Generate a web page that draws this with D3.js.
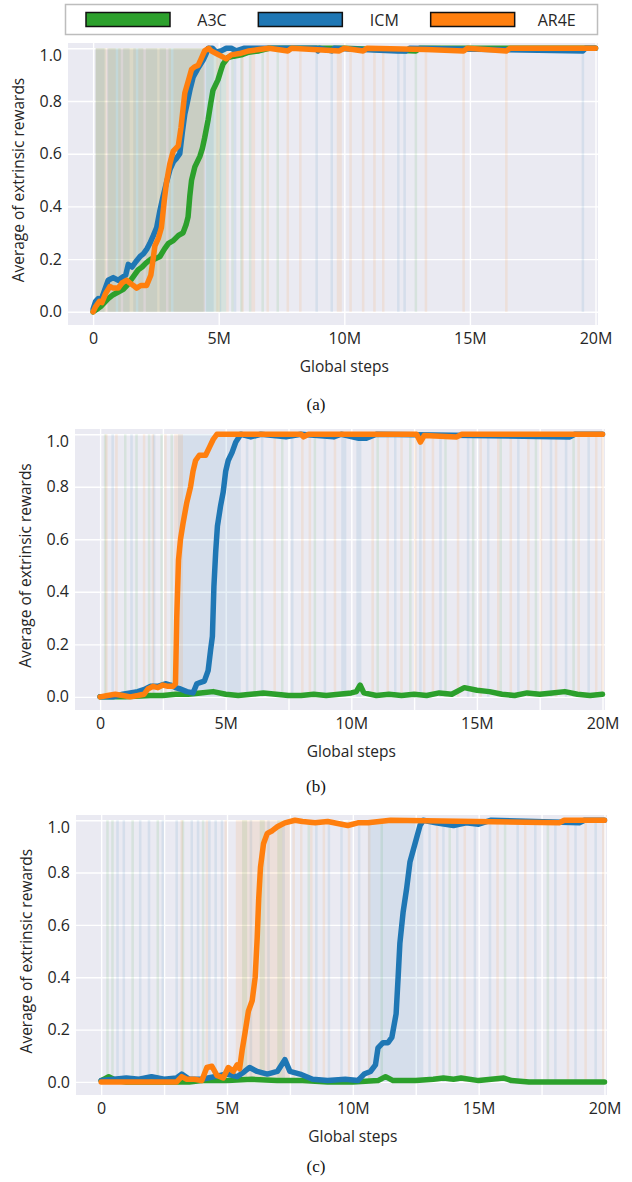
<!DOCTYPE html>
<html>
<head>
<meta charset="utf-8">
<script src="https://cdn.jsdelivr.net/npm/d3@7"></script>
<style>
  body { margin: 0; background: #fff; }
  svg text { font-family: "Open Sans", "Noto Sans", sans-serif; fill: #262626; }
  svg text.caption { font-family: "Liberation Serif", "Times New Roman", serif; fill: #111; }
</style>
</head>
<body>
<svg id="chart" width="632" height="1182"></svg>
<script>
//-------------------------------
// Data (x = global steps in millions, y = average extrinsic reward)
var seriesNames = ["A3C", "ICM", "AR4E"];
var seriesColors = ["#2ca02c", "#1f77b4", "#ff7f0e"];
var yTicks = [0, 0.2, 0.4, 0.6, 0.8, 1.0];
var xTicks = [0, 5, 10, 15, 20];
var panelLetters = ["(a)", "(b)", "(c)"];

// (a)
var a3cA = [[0,0],[0.15,0.01],[0.3,0.02],[0.45,0.035],[0.6,0.05],[0.8,0.065],[1.0,0.075],[1.2,0.085],[1.35,0.1],
  [1.5,0.12],[1.65,0.14],[1.8,0.16],[1.95,0.17],[2.1,0.185],[2.3,0.2],[2.45,0.2],[2.66,0.21],[2.85,0.24],[3.0,0.26],
  [3.19,0.27],[3.4,0.29],[3.58,0.3],[3.7,0.33],[3.78,0.36],[3.85,0.44],[3.92,0.5],[4.05,0.55],[4.25,0.59],[4.35,0.62],
  [4.44,0.66],[4.58,0.73],[4.68,0.79],[4.77,0.84],[4.97,0.88],[5.1,0.92],[5.17,0.94],[5.37,0.965],[5.6,0.97],
  [5.9,0.975],[6.2,0.985],[6.6,0.99],[7.0,1.0],[7.4,1.0],[10,1.0],[12.85,0.99],[13,1.0],[20,1.0]];
var icmA = [[0,0.01],[0.1,0.04],[0.2,0.05],[0.3,0.04],[0.45,0.08],[0.6,0.12],[0.8,0.13],[1.0,0.12],[1.15,0.13],
  [1.3,0.14],[1.4,0.18],[1.55,0.17],[1.7,0.19],[1.87,0.21],[2.0,0.22],[2.15,0.24],[2.26,0.26],[2.4,0.29],[2.53,0.32],
  [2.65,0.38],[2.79,0.44],[2.92,0.49],[3.06,0.54],[3.2,0.57],[3.3,0.58],[3.45,0.6],[3.55,0.68],[3.65,0.75],[3.72,0.78],
  [3.85,0.84],[3.98,0.89],[4.15,0.92],[4.38,0.955],[4.5,0.98],[4.58,1.0],[4.75,1.0],[4.9,0.985],[5.1,0.99],[5.3,1.0],
  [5.5,1.0],[5.7,0.99],[6.0,1.0],[8.9,1.0],[8.95,0.99],[9.0,1.0],[9.5,0.99],[9.6,1.0],[12.1,0.99],[12.45,0.99],
  [12.6,1.0],[19.5,0.99],[19.6,1.0],[20,1.0]];
var ar4eA = [[0,0],[0.1,0.02],[0.25,0.04],[0.35,0.035],[0.5,0.07],[0.67,0.096],[0.8,0.09],[1.0,0.09],[1.15,0.11],
  [1.34,0.12],[1.45,0.11],[1.6,0.1],[1.73,0.09],[1.9,0.1],[2.13,0.1],[2.3,0.14],[2.46,0.25],[2.6,0.28],[2.72,0.32],
  [2.83,0.42],[2.92,0.49],[3.05,0.56],[3.19,0.61],[3.39,0.63],[3.5,0.7],[3.58,0.77],[3.65,0.83],[3.8,0.88],[3.92,0.92],
  [4.05,0.93],[4.18,0.935],[4.3,0.96],[4.44,0.99],[4.6,1.0],[4.7,0.99],[4.9,0.98],[5.1,0.97],[5.3,0.96],[5.5,0.975],
  [5.83,0.98],[6.2,0.99],[6.6,0.995],[7.0,1.0],[7.75,0.99],[7.9,1.0],[9.8,0.99],[10.0,1.0],[10.75,0.99],[10.9,1.0],
  [13.25,0.995],[14.75,0.99],[14.9,1.0],[16.45,0.99],[16.6,1.0],[20,1.0]];
var a3cBandA = [[0.1,0.5],[0.6,1.1],[1.2,2.0],[2.1,2.9],[3.0,4.4],[4.5,5.3],[5.5,5.6],[5.85,5.95],[6.2,6.3],
  [6.7,6.8],[7.3,7.4],[12.8,12.9]];
var icmBandA = [[0.1,0.45],[0.55,1.45],[1.6,2.55],[2.65,4.8],[5.0,5.1],[5.6,5.7],[8.85,8.95],[9.45,9.55],
  [12.1,12.2],[12.35,12.45],[19.45,19.55]];
var ar4eBandA = [[0.1,0.9],[1.0,1.7],[1.8,3.1],[3.2,4.45],[4.9,5.05],[5.3,5.4],[5.9,6.0],[6.3,6.45],[6.9,7.0],
  [7.7,7.8],[8.2,8.3],[9.7,9.9],[10.2,10.3],[10.7,10.8],[11.15,11.25],[11.5,11.6],[13.2,13.3],[14.7,14.8],[16.4,16.5]];

// (b)
var a3cB = [[0,0],[1,0],[2,0.005],[2.5,0.005],[3,0.01],[3.5,0.01],[4,0.015],[4.5,0.02],[5,0.01],[5.5,0.005],
  [6,0.01],[6.5,0.015],[7,0.01],[7.5,0.005],[8,0.005],[8.5,0.01],[9,0.005],[9.5,0.01],[10,0.015],[10.2,0.02],
  [10.35,0.045],[10.5,0.015],[11,0.005],[11.5,0.01],[12,0.005],[12.5,0.01],[13,0.005],[13.5,0.015],[14,0.01],
  [14.5,0.035],[15,0.025],[15.5,0.02],[16,0.01],[16.5,0.005],[17,0.015],[17.5,0.01],[18,0.015],[18.5,0.02],
  [19,0.01],[19.5,0.005],[20,0.01]];
var icmB = [[0,0],[0.5,0],[0.9,0.01],[1.2,0.015],[1.5,0.02],[1.8,0.03],[2.0,0.04],[2.3,0.04],[2.6,0.05],
  [2.8,0.045],[3.0,0.035],[3.2,0.03],[3.45,0.02],[3.7,0.015],[3.85,0.05],[4.0,0.055],[4.15,0.06],[4.3,0.1],
  [4.4,0.18],[4.47,0.23],[4.53,0.42],[4.6,0.55],[4.67,0.65],[4.8,0.73],[4.9,0.78],[5.0,0.86],[5.1,0.9],
  [5.25,0.93],[5.4,0.97],[5.6,1.0],[6,0.99],[6.4,1.0],[7.4,0.99],[8,1.0],[9.3,0.99],[9.6,1.0],[10.3,0.985],
  [10.6,0.985],[11,1.0],[18.7,0.99],[18.9,1.0],[20,1.0]];
var ar4eB = [[0,0],[0.3,0.005],[0.6,0.01],[0.9,0.005],[1.2,0],[1.5,0.005],[1.75,0.01],[1.9,0.03],[2.1,0.04],
  [2.3,0.035],[2.5,0.045],[2.7,0.04],[2.9,0.04],[3.0,0.05],[3.05,0.3],[3.12,0.52],[3.2,0.6],[3.3,0.66],[3.45,0.74],
  [3.6,0.8],[3.7,0.86],[3.8,0.9],[3.95,0.92],[4.2,0.92],[4.35,0.95],[4.5,0.98],[4.65,1.0],[8.0,1.0],[8.1,0.99],
  [8.3,1.0],[12.6,1.0],[12.75,0.97],[12.9,0.995],[14.2,0.99],[14.4,1.0],[20,1.0]];
var a3cBandB = [[0.15,0.25],[0.95,1.05],[1.4,1.5],[1.9,2.0],[2.4,2.5],[2.8,2.9],[6.1,6.2],[7.2,7.3],[8.5,8.6],
  [11.0,11.1],[12.3,12.4],[13.7,13.8],[14.8,14.9],[15.9,16.0],[17.3,17.4],[18.8,18.9]];
var icmBandB = [[0.45,0.55],[1.2,1.3],[2.1,2.2],[3.1,5.6],[5.8,5.9],[6.4,6.5],[7.6,7.7],[8.9,9.0],[9.6,9.8],
  [10.2,10.4],[11.7,11.8],[12.7,12.8],[13.5,13.6],[14.6,14.7],[15.4,15.5],[16.6,16.7],[17.9,18.0],[18.5,18.6],
  [19.4,19.5]];
var ar4eBandB = [[0.2,0.3],[0.6,0.7],[1.7,1.8],[2.05,2.15],[2.55,2.65],[2.95,3.05],[3.05,3.3],[6.9,7.0],[8.0,8.1],
  [8.3,8.4],[9.3,9.4],[10.8,10.9],[11.4,11.5],[11.95,12.05],[12.5,12.6],[12.85,12.95],[13.2,13.3],[14.2,14.3],
  [15.1,15.2],[15.8,15.9],[16.3,16.4],[17.0,17.1],[17.5,17.6],[18.1,18.2],[19.0,19.1],[19.7,19.8],[19.95,20.05]];

// (c)
var a3cC = [[0,0.005],[0.3,0.02],[0.6,0.005],[1,0],[2,0],[3,0],[3.5,0],[4,0.005],[5,0.005],[6,0.01],[7,0.005],
  [8,0.005],[9,0],[10,0],[11,0.005],[11.3,0.02],[11.6,0.005],[12.5,0.005],[13.2,0.01],[13.6,0.015],[14,0.01],
  [14.3,0.015],[15,0.005],[16,0.015],[16.3,0.005],[17,0],[20,0]];
var icmC = [[0,0.005],[0.5,0.01],[1,0.015],[1.5,0.01],[2,0.02],[2.5,0.01],[3,0.015],[3.2,0.03],[3.5,0.01],
  [4,0.01],[4.5,0.02],[5,0.03],[5.4,0.02],[5.7,0.04],[5.9,0.055],[6.2,0.04],[6.6,0.03],[7.0,0.04],[7.3,0.085],
  [7.5,0.04],[7.9,0.03],[8.4,0.01],[9,0.005],[9.7,0.01],[10.2,0.005],[10.45,0.03],[10.7,0.04],[10.9,0.065],
  [11.0,0.13],[11.2,0.15],[11.4,0.15],[11.55,0.17],[11.72,0.26],[11.8,0.4],[11.87,0.53],[12.0,0.65],[12.14,0.74],
  [12.27,0.84],[12.47,0.91],[12.67,0.98],[12.8,1.0],[13.3,0.99],[14,0.98],[14.5,0.99],[15,0.985],[15.5,1.0],
  [19,0.99],[19.2,1.0],[20,1.0]];
var ar4eC = [[0,0],[1,0],[2,0],[3,0],[3.2,0.02],[3.4,0.01],[3.7,0.01],[4.0,0.005],[4.2,0.055],[4.4,0.06],
  [4.6,0.025],[4.85,0.015],[5.05,0.055],[5.25,0.04],[5.4,0.065],[5.5,0.05],[5.6,0.12],[5.72,0.19],[5.85,0.27],
  [6.0,0.31],[6.12,0.4],[6.2,0.55],[6.26,0.7],[6.33,0.82],[6.45,0.91],[6.6,0.95],[6.8,0.96],[7.0,0.975],
  [7.3,0.99],[7.7,1.0],[8.0,0.995],[8.5,0.99],[9.0,0.995],[9.8,0.98],[10.2,0.99],[10.6,0.99],[11.5,1.0],
  [18.2,0.99],[18.4,1.0],[20,1.0]];
var a3cBandC = [[0.2,0.3],[0.4,0.5],[1.2,1.3],[2.2,2.3],[3.2,3.3],[4.0,4.1],[5.6,5.8],[6.3,6.5],[7.0,7.2],
  [8.2,8.3],[11.1,11.2],[13.8,13.9],[16.0,16.1],[17.7,17.8]];
var icmBandC = [[0.6,0.7],[0.85,0.95],[1.5,1.6],[1.85,1.95],[2.4,2.5],[2.95,3.05],[3.55,3.65],[3.8,3.9],
  [4.25,4.35],[4.5,4.6],[4.75,4.85],[5.9,6.0],[6.6,6.7],[7.2,7.3],[8.5,8.6],[9.0,9.1],[9.5,9.6],[10.2,10.3],
  [10.6,12.8],[13.0,13.1],[13.55,13.65],[14.1,14.2],[14.8,14.9],[15.4,15.5],[16.5,16.6],[17.2,17.3],[18.0,18.1],
  [18.8,18.9],[19.6,19.7]];
var ar4eBandC = [[3.15,3.25],[4.15,4.25],[4.9,5.0],[5.35,7.5],[7.6,7.7],[7.9,8.0],[8.3,8.4],[8.8,8.9],[9.8,9.9],
  [10.6,10.7],[13.3,13.4],[14.4,14.5],[15.7,15.8],[16.8,16.9],[18.5,18.6],[19.2,19.3],[19.9,20.0]];

//-------------------------------
var svg = d3.select("#chart");

function Panel(config) {
  var vm = this;
  vm._config = config;
  vm._scales = {};
  vm._g = svg.append("g").attr("class", "panel");
}

Panel.prototype.scales = function() {
  var vm = this, box = vm._config.box;
  vm._scales.x = d3.scaleLinear().domain([-1, 20.1]).range([box.left, box.right]);
  vm._scales.y = d3.scaleLinear().domain([-0.05, 1.02]).range([box.bottom, box.top]);
  return vm;
};

Panel.prototype.draw = function() {
  var vm = this, box = vm._config.box, x = vm._scales.x, y = vm._scales.y;
  var g = vm._g;

  g.append("rect")
    .attr("x", box.left).attr("y", box.top)
    .attr("width", box.right - box.left).attr("height", box.bottom - box.top)
    .attr("fill", "#eaeaf2");

  // grid
  var gx = g.append("g")
    .attr("transform", "translate(0," + box.bottom + ")")
    .call(d3.axisBottom(x).tickValues(vm._config.gridX).tickSize(-(box.bottom - box.top)).tickFormat(""));
  var gy = g.append("g")
    .attr("transform", "translate(" + box.left + ",0)")
    .call(d3.axisLeft(y).tickValues(yTicks).tickSize(-(box.right - box.left)).tickFormat(""));
  [gx, gy].forEach(function(a) {
    a.select(".domain").remove();
    a.selectAll("line").attr("stroke", "#fff").attr("stroke-width", 1.4);
  });

  // shaded spread of each run
  vm._config.bands.forEach(function(band, i) {
    g.append("g").selectAll("rect")
      .data(band)
      .enter().append("rect")
        .attr("x", function(d) { return x(d[0]); })
        .attr("y", y(1))
        .attr("width", function(d) { return Math.max(1.5, x(d[1]) - x(d[0])); })
        .attr("height", y(0) - y(1))
        .attr("fill", seriesColors[i])
        .attr("opacity", 0.1);
  });

  var line = d3.line()
    .x(function(d) { return x(d[0]); })
    .y(function(d) { return y(d[1]); });

  vm._config.series.forEach(function(s, i) {
    g.append("path")
      .datum(s)
      .attr("d", line)
      .attr("fill", "none")
      .attr("stroke", seriesColors[i])
      .attr("stroke-width", 5.5)
      .attr("stroke-linejoin", "round")
      .attr("stroke-linecap", "round");
  });

  // tick labels
  var ax = g.append("g")
    .attr("transform", "translate(0," + box.bottom + ")")
    .call(d3.axisBottom(x).tickValues(xTicks).tickSize(0).tickPadding(8)
      .tickFormat(function(d) { return d === 0 ? "0" : d + "M"; }));
  var ay = g.append("g")
    .attr("transform", "translate(" + box.left + ",0)")
    .call(d3.axisLeft(y).tickValues(yTicks).tickSize(0).tickPadding(6).tickFormat(d3.format(".1f")));
  [ax, ay].forEach(function(a) {
    a.select(".domain").remove();
    a.selectAll("text").style("font-size", "16px").attr("fill", "#262626");
  });
  // the top label is kept inside the axes area
  ay.selectAll(".tick").each(function(d) {
    var minY = box.top + 12;
    if (y(d) < minY) d3.select(this).select("text").attr("dy", (0.32 + (minY - y(d)) / 16) + "em");
  });

  g.append("text")
    .attr("x", x(10)).attr("y", box.bottom + 47)
    .attr("text-anchor", "middle")
    .style("font-size", "15.5px")
    .text("Global steps");

  g.append("text")
    .attr("transform", "translate(" + (box.left - 44) + "," + y(0.5) + ") rotate(-90)")
    .attr("text-anchor", "middle")
    .style("font-size", "15.5px")
    .text("Average of extrinsic rewards");

  g.append("text")
    .attr("class", "caption")
    .attr("x", 316).attr("y", vm._config.captionY)
    .attr("text-anchor", "middle")
    .style("font-size", "17px")
    .text(vm._config.caption);

  return vm;
};

//-------------------------------
var gridMajor = [0, 5, 10, 15, 20];
var gridMinor = [0, 2.5, 5, 7.5, 10, 12.5, 15, 17.5, 20];

var panels = [
  { box: {left: 68, right: 598, top: 43, bottom: 325}, gridX: gridMajor,
    series: [a3cA, icmA, ar4eA], bands: [a3cBandA, icmBandA, ar4eBandA], caption: panelLetters[0], captionY: 410 },
  { box: {left: 75, right: 605, top: 429, bottom: 710}, gridX: gridMinor,
    series: [a3cB, icmB, ar4eB], bands: [a3cBandB, icmBandB, ar4eBandB], caption: panelLetters[1], captionY: 792 },
  { box: {left: 76, right: 607, top: 815, bottom: 1095}, gridX: gridMinor,
    series: [a3cC, icmC, ar4eC], bands: [a3cBandC, icmBandC, ar4eBandC], caption: panelLetters[2], captionY: 1172 }
];

panels.forEach(function(p) {
  new Panel(p).scales().draw();
});

// legend
var legend = svg.append("g").attr("class", "legend");
legend.append("rect")
  .attr("x", 65.5).attr("y", 4.5).attr("width", 532).attr("height", 30)
  .attr("fill", "#fff").attr("stroke", "#bdbdbd").attr("stroke-width", 1.5);

var legendScale = d3.scaleBand().domain(seriesNames).range([80, 597]);
var items = legend.selectAll(".item")
  .data(seriesNames)
  .enter().append("g")
    .attr("class", "item")
    .attr("transform", function(d) { return "translate(" + legendScale(d) + ",0)"; });
items.append("rect")
  .attr("x", 6).attr("y", 12.5).attr("width", 84).attr("height", 14)
  .attr("fill", function(d, i) { return seriesColors[i]; })
  .attr("stroke", "#111").attr("stroke-width", 1.5);
items.append("text")
  .attr("x", 132).attr("y", 26)
  .attr("text-anchor", "middle")
  .style("font-size", "16px")
  .text(function(d) { return d; });
</script>
</body>
</html>
